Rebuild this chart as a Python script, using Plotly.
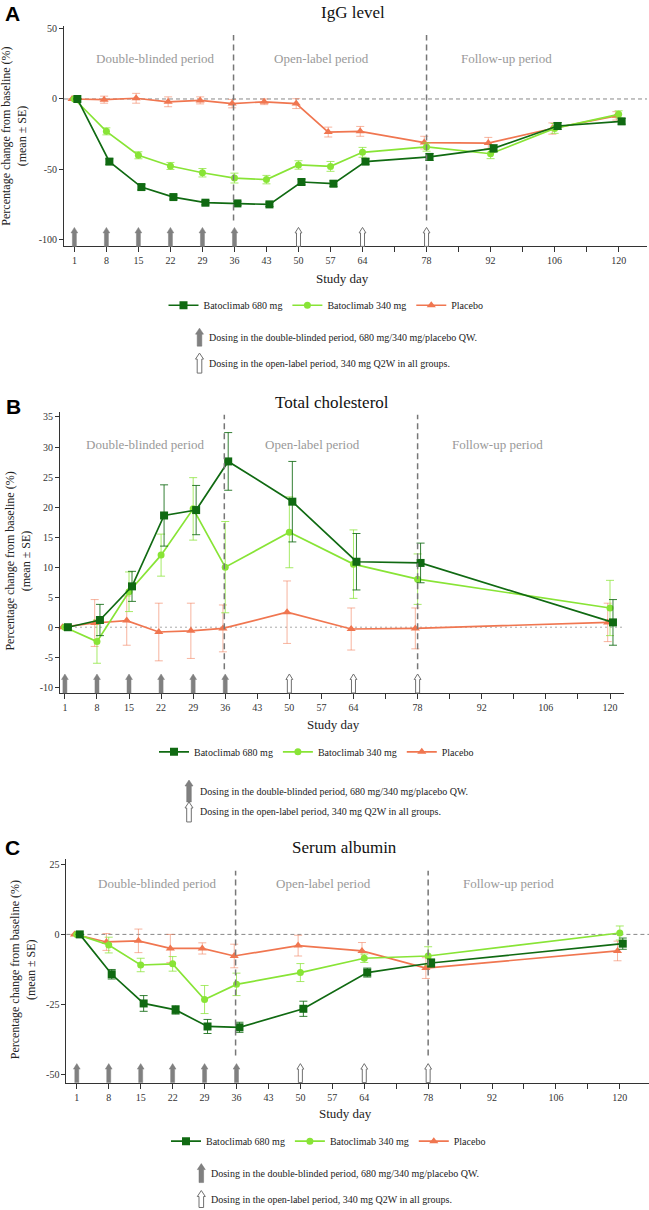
import plotly.graph_objects as go

# ---------------- data ----------------
groups = ["Batoclimab 680 mg", "Batoclimab 340 mg", "Placebo"]

days_igg = [1, 8, 15, 22, 29, 36, 43, 50, 57, 64, 78, 92, 106, 120]
igg_680 = [0, -44.5, -62.6, -69.7, -73.7, -74.2, -74.9, -59.0, -60.2, -44.5, -41.2, -35.1, -19.2, -15.9]
igg_680_se = [0, 2.0, 2.0, 1.5, 1.5, 1.5, 1.5, 2.0, 2.0, 2.0, 2.5, 2.5, 2.5, 2.0]
igg_340 = [0, -23.0, -40.0, -47.6, -52.4, -56.2, -57.3, -46.9, -47.9, -37.9, -34.1, -38.9, -20.9, -10.9]
igg_340_se = [0, 2.5, 2.5, 2.5, 3.0, 3.5, 3.0, 3.0, 3.5, 3.5, 3.0, 3.5, 3.5, 2.5]
igg_pbo = [0, -0.5, 0.5, -2.0, -1.0, -3.3, -2.0, -3.3, -23.5, -23.0, -31.0, -31.3, -21.0, -12.0]
igg_pbo_se = [0, 2.5, 3.5, 3.5, 2.5, 3.0, 2.0, 3.5, 3.5, 3.5, 4.5, 4.0, 4.0, 3.0]

days_chol = [1, 8, 15, 22, 29, 36, 50, 64, 78, 120]
chol_680 = [0, 1.2, 6.8, 18.6, 19.5, 27.6, 20.9, 10.9, 10.7, 0.8]
chol_680_se = [0, 2.6, 2.5, 5.1, 4.1, 4.8, 6.7, 4.7, 3.3, 3.8]
chol_340 = [0, -2.4, 5.9, 12.0, 19.7, 10.0, 15.8, 10.5, 8.0, 3.2]
chol_340_se = [0, 3.6, 3.3, 3.5, 5.2, 7.6, 5.9, 5.7, 4.2, 4.6]
chol_pbo = [0, 0.7, 1.1, -0.8, -0.6, -0.2, 2.5, -0.3, -0.2, 0.8]
chol_pbo_se = [0, 3.9, 4.1, 4.8, 4.6, 3.9, 5.2, 3.5, 3.4, 3.2]

days_alb = [1, 8, 15, 22, 29, 36, 50, 64, 78, 120]
alb_680 = [0, -14.2, -24.6, -26.9, -32.8, -33.1, -26.5, -13.6, -10.2, -3.3]
alb_680_se = [0, 1.7, 2.8, 1.5, 2.5, 1.8, 2.7, 1.6, 1.5, 2.0]
alb_340 = [0, -3.8, -10.9, -10.5, -23.2, -17.8, -13.6, -8.5, -7.7, 0.5]
alb_340_se = [0, 2.8, 2.4, 2.6, 5.0, 4.0, 3.2, 1.5, 3.3, 2.5]
alb_pbo = [0, -2.7, -2.3, -5.0, -5.0, -7.7, -4.0, -5.9, -12.0, -5.9]
alb_pbo_se = [0, 3.0, 4.2, 5.0, 2.0, 4.2, 3.7, 3.0, 3.7, 3.5]

blinded_dose_days = [1, 8, 15, 22, 29, 36]
open_dose_days = [50, 64, 78]
period_boundaries = [35.8, 78]
period_names = ["Double-blinded period", "Open-label period", "Follow-up period"]
period_label_days = [18.7, 55.1, 95.5]

x_tick_vals = list(range(1, 121, 7))
x_tick_text = [str(v) if v in (1, 8, 15, 22, 29, 36, 43, 50, 57, 64, 78, 92, 106, 120) else "" for v in x_tick_vals]

igg_ticks = [-100, -50, 0, 50]
chol_ticks = [-10, -5, 0, 5, 10, 15, 20, 25, 30, 35]
alb_ticks = [-50, -25, 0, 25]

panel_titles = ["IgG level", "Total cholesterol", "Serum albumin"]
panel_letters = ["A", "B", "C"]
dose_notes = ["Dosing in the double-blinded period, 680 mg/340 mg/placebo QW.",
              "Dosing in the open-label period, 340 mg Q2W in all groups."]

# ---------------- style ----------------
W, H = 649, 1210
def fx(p): return p / W
def fy(p): return 1 - p / H

SERIF = "Liberation Serif, Times New Roman, serif"
SANS = "Liberation Sans, Arial, sans-serif"
C680 = "#106a12"
C340 = "#88e436"
CPBO = "#f07650"
ERR = {C680: "rgba(16,106,18,0.85)", C340: "rgba(136,228,54,0.75)", CPBO: "rgba(240,118,80,0.55)"}
AX = "#333333"

panels = [
    dict(days=days_igg, series=[(igg_680, igg_680_se), (igg_340, igg_340_se), (igg_pbo, igg_pbo_se)],
         xdom=(64, 647), xr=(-1.27, 126.2), ydom=(23, 244), yr=(-104.75, 51.9), yt=igg_ticks,
         title=(352.7, 9.3), letter=(12, 11), ytitle=(14.5, 133.5), xtitle=(342, 276),
         periods_y=56, vline=(32, 218), zero_dash="4px,3px", zero_col="#888888",
         legend=(326, 303), notes=((199.5, 335, 18), (199.5, 361, 20), 206.7)),
    dict(days=days_chol, series=[(chol_680, chol_680_se), (chol_340, chol_340_se), (chol_pbo, chol_pbo_se)],
         xdom=(60, 623.6), xr=(-0.07, 122.97), ydom=(410, 691.7), yr=(-10.95, 35.83), yt=chol_ticks,
         title=(332, 400), letter=(13, 405), ytitle=(18, 560), xtitle=(333, 723.3),
         periods_y=442.3, vline=(412.7, 668), zero_dash="2px,3px", zero_col="#aaaaaa",
         legend=(316.5, 750.7), notes=((189, 790, 22), (189, 811, 20), 197.7)),
    dict(days=days_alb, series=[(alb_680, alb_680_se), (alb_340, alb_340_se), (alb_pbo, alb_pbo_se)],
         xdom=(66.4, 649), xr=(-1.28, 126.4), ydom=(858, 1082.3), yr=(-52.8, 26.9), yt=alb_ticks,
         title=(344.4, 846.7), letter=(12, 847), ytitle=(22.7, 969), xtitle=(345, 1113.3),
         periods_y=882.3, vline=(870, 1055), zero_dash="4px,3px", zero_col="#888888",
         legend=(328.5, 1141), notes=((201.3, 1173, 19), (201.3, 1199, 17), 209.3)),
]

styles = [
    dict(color=C680, symbol="square", size=8, dodge=0.65, rank=1),
    dict(color=C340, symbol="circle", size=7, dodge=0.0, rank=2),
    dict(color=CPBO, symbol="triangle-up", size=8, dodge=-0.5, rank=3),
]

fig = go.Figure()
layout = dict(width=W, height=H, margin=dict(l=0, r=0, t=0, b=0),
              plot_bgcolor="white", paper_bgcolor="white", showlegend=True)
shapes, annotations = [], []

def arrow_path(h, hw_head, hw_shaft, head_h):
    return (f"M {-hw_shaft},0 L {-hw_shaft},{h-head_h} L {-hw_head},{h-head_h} L 0,{h} "
            f"L {hw_head},{h-head_h} L {hw_shaft},{h-head_h} L {hw_shaft},0 Z")

for i, p in enumerate(panels):
    k = "" if i == 0 else str(i + 1)
    xa, ya = "x" + k, "y" + k
    lg = "legend" + k
    for idx in [2, 1, 0]:
        st = styles[idx]
        vals, se = p["series"][idx]
        fig.add_trace(go.Scatter(
            x=[d + st["dodge"] for d in p["days"]], y=vals,
            mode="lines+markers", name=groups[idx],
            line=dict(color=st["color"], width=1.7),
            marker=dict(color=st["color"], symbol=st["symbol"], size=st["size"]),
            error_y=dict(type="data", array=se, color=ERR[st["color"]], thickness=1, width=4),
            xaxis=xa, yaxis=ya, legend=lg, legendrank=st["rank"], cliponaxis=False))

    layout["xaxis" + k] = dict(domain=[fx(p["xdom"][0]), fx(p["xdom"][1])], range=list(p["xr"]),
                               anchor=ya, tickvals=x_tick_vals, ticktext=x_tick_text,
                               ticks="outside", ticklen=5, tickcolor=AX, showline=True,
                               linecolor=AX, linewidth=1, showgrid=False, zeroline=False,
                               tickfont=dict(family=SERIF, size=10, color=AX))
    layout["yaxis" + k] = dict(domain=[fy(p["ydom"][1]), fy(p["ydom"][0])], range=list(p["yr"]),
                               anchor=xa, tickvals=p["yt"], ticktext=[str(v) for v in p["yt"]],
                               ticks="outside", ticklen=4, tickcolor=AX, showline=True,
                               linecolor=AX, linewidth=1, showgrid=False, zeroline=False,
                               tickfont=dict(family=SERIF, size=10, color=AX))
    layout[lg] = dict(orientation="h", x=fx(p["legend"][0]), xanchor="center",
                      y=fy(p["legend"][1]), yanchor="middle", bgcolor="rgba(0,0,0,0)",
                      font=dict(family=SERIF, size=10, color="#222"), itemwidth=30,
                      traceorder="normal")

    shapes.append(dict(type="line", xref=xa + " domain", x0=0, x1=1, yref=ya, y0=0, y1=0,
                       line=dict(color=p["zero_col"], width=1, dash=p["zero_dash"]), layer="below"))
    for b in period_boundaries:
        shapes.append(dict(type="line", xref=xa, x0=b, x1=b, yref="paper",
                           y0=fy(p["vline"][1]), y1=fy(p["vline"][0]),
                           line=dict(color="#777777", width=1.5, dash="6px,4px")))
    for d in blinded_dose_days:
        shapes.append(dict(type="path", xref=xa, xsizemode="pixel", xanchor=d,
                           yref="paper", ysizemode="pixel", yanchor=fy(p["ydom"][1]),
                           path=arrow_path(19, 3.4, 2, 5.5), fillcolor="#808080",
                           line=dict(color="#808080", width=0.5)))
    for d in open_dose_days:
        shapes.append(dict(type="path", xref=xa, xsizemode="pixel", xanchor=d,
                           yref="paper", ysizemode="pixel", yanchor=fy(p["ydom"][1]),
                           path=arrow_path(19, 3.4, 2, 5.5), fillcolor="white",
                           line=dict(color="#707070", width=1)))
    for name, dd in zip(period_names, period_label_days):
        annotations.append(dict(text=name, x=dd, xref=xa, y=fy(p["periods_y"]), yref="paper",
                                showarrow=False, font=dict(family=SERIF, size=13, color="#999999"),
                                xanchor="center", yanchor="middle"))
    annotations.append(dict(text=panel_titles[i], x=fx(p["title"][0]), y=fy(p["title"][1]),
                            xref="paper", yref="paper", showarrow=False,
                            font=dict(family=SERIF, size=17, color="#111"),
                            xanchor="center", yanchor="middle"))
    annotations.append(dict(text=panel_letters[i], x=fx(p["letter"][0]), y=fy(p["letter"][1]),
                            xref="paper", yref="paper", showarrow=False,
                            font=dict(family=SANS, size=21, color="black", weight="bold"),
                            xanchor="center", yanchor="middle"))
    annotations.append(dict(text="Percentage change from baseline (%)<br>(mean ± SE)",
                            x=fx(p["ytitle"][0]), y=fy(p["ytitle"][1]), xref="paper", yref="paper",
                            showarrow=False, textangle=-90,
                            font=dict(family=SERIF, size=12, color="#222"),
                            xanchor="center", yanchor="middle"))
    annotations.append(dict(text="Study day", x=fx(p["xtitle"][0]), y=fy(p["xtitle"][1]),
                            xref="paper", yref="paper", showarrow=False,
                            font=dict(family=SERIF, size=13, color="#222"),
                            xanchor="center", yanchor="middle"))
    n1, n2, tx = p["notes"]
    for (ix, iy, ih), note, filled in [(n1, dose_notes[0], True), (n2, dose_notes[1], False)]:
        shapes.append(dict(type="path", xref="paper", xsizemode="pixel", xanchor=fx(ix),
                           yref="paper", ysizemode="pixel", yanchor=fy(iy + ih / 2),
                           path=arrow_path(ih, 4, 2.3, 6),
                           fillcolor="#808080" if filled else "white",
                           line=dict(color="#707070", width=0.5 if filled else 1)))
        annotations.append(dict(text=note, x=fx(tx), y=fy(iy), xref="paper", yref="paper",
                                showarrow=False, font=dict(family=SERIF, size=10, color="#222"),
                                xanchor="left", yanchor="middle"))

layout["shapes"] = shapes
layout["annotations"] = annotations
fig.update_layout(**layout)
fig.write_html("out.html", config={"displayModeBar": False},
               post_script="document.body.style.margin='0';document.body.style.overflow='hidden';")
